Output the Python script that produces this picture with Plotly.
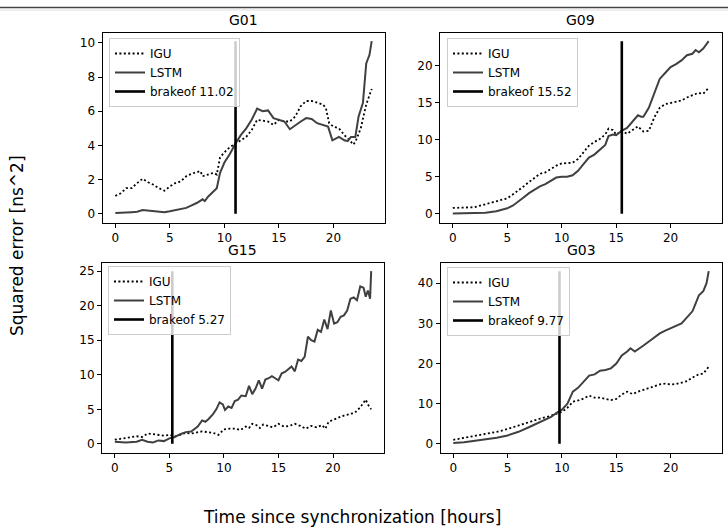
import plotly.graph_objects as go

# ---------------- data ----------------
panel_names = ["G01", "G09", "G15", "G03"]
brakeof = [11.02, 15.52, 5.27, 9.77]

g01_lstm_t = [0, 0.5, 1, 1.5, 2, 2.5, 3, 3.5, 4, 4.5, 5, 5.5, 6, 6.5, 7, 7.5, 8, 8.2, 8.5, 9, 9.3, 9.6, 10, 10.5, 11,
              11.5, 12, 12.5, 13, 13.5, 14, 14.5, 15, 15.5, 16, 16.5, 17, 17.5, 18, 18.5, 19, 19.5, 19.9, 20.2, 20.5,
              21, 21.3, 21.6, 22, 22.3, 22.7, 23, 23.3, 23.5]
g01_lstm_v = [0.05, 0.05, 0.08, 0.1, 0.12, 0.22, 0.2, 0.18, 0.15, 0.1, 0.15, 0.22, 0.25, 0.35, 0.5, 0.65, 0.85, 0.75,
              1.0, 1.3, 1.5, 2.4, 3.0, 3.5, 4.1, 4.6, 5.0, 5.5, 6.15, 6.0, 6.05, 5.6, 5.5, 5.4, 4.95, 5.2, 5.4, 5.6,
              5.55, 5.3, 5.2, 5.1, 4.3, 4.4, 4.5, 4.3, 4.25, 4.5, 4.5, 5.7, 6.5, 8.8, 9.3, 10.1]
g01_igu_t = [0, 0.5, 1, 1.5, 2, 2.5, 3, 3.5, 4, 4.5, 5, 5.5, 6, 6.5, 7, 7.5, 7.8, 8, 8.5, 9, 9.3, 9.6, 10, 10.5, 11,
             11.5, 12, 12.5, 13, 13.5, 14, 14.5, 15, 15.5, 16, 16.5, 17, 17.5, 18, 18.5, 19, 19.3, 19.6, 20, 20.5,
             21, 21.5, 21.8, 22, 22.5, 23, 23.5]
g01_igu_v = [1.05, 1.2, 1.5, 1.5, 1.8, 2.05, 1.85, 1.7, 1.5, 1.35, 1.6, 1.8, 1.9, 2.2, 2.35, 2.45, 2.5, 2.2, 2.3, 2.4,
             2.3, 3.3, 3.6, 3.9, 4.1, 4.3, 4.5, 4.9, 5.5, 5.45, 5.4, 5.2, 5.5, 5.4, 5.4, 5.7, 6.3, 6.6, 6.6, 6.5,
             6.4, 6.2, 5.3, 5.1, 5.0, 4.6, 4.3, 4.05, 4.2, 5.0, 6.4, 7.3]

g09_lstm_t = [0, 1, 2, 3, 4, 4.5, 5, 5.5, 6, 6.5, 7, 7.5, 8, 8.5, 9, 9.5, 10, 10.5, 11, 11.5, 12, 12.5, 13, 13.5, 14,
              14.3, 14.7, 15, 15.5, 16, 16.5, 17, 17.3, 17.5, 18, 18.5, 19, 19.5, 20, 20.5, 21, 21.5, 22, 22.3, 22.6,
              23, 23.5]
g09_lstm_v = [0.05, 0.05, 0.05, 0.15, 0.35, 0.5, 0.75, 1.1, 1.6, 2.2, 2.8, 3.3, 3.7, 4.0, 4.4, 4.9, 5.0, 5.0, 5.2, 5.8,
              6.7, 7.6, 8.0, 8.7, 9.3, 10.5, 10.7, 10.6, 11.2, 11.6, 12.5, 13.3, 13.1, 13.1, 14.3, 16.3, 18.2, 19.0,
              19.8, 20.2, 20.7, 21.4, 21.6, 22.1, 21.8, 22.3, 23.3]
g09_igu_t = [0, 1, 2, 2.5, 3, 4, 5, 5.5, 6, 6.5, 7, 7.5, 8, 8.5, 9, 9.5, 10, 10.5, 11, 11.5, 12, 12.5, 13, 13.5, 14,
             14.3, 14.7, 15, 15.5, 16, 16.5, 17, 17.5, 18, 18.5, 19, 19.5, 20, 20.5, 21, 21.5, 22, 22.5, 23, 23.5]
g09_igu_v = [0.8, 0.9, 0.9, 1.1, 1.3, 1.6, 2.1, 2.6, 3.1, 3.7, 4.3, 4.8, 5.4, 5.6, 6.1, 6.5, 6.8, 6.8, 6.9, 7.4, 8.3,
             9.2, 9.7, 10.1, 10.7, 11.5, 11.3, 10.7, 11.2, 10.8, 11.3, 11.8, 11.1, 11.2, 13.0, 14.3, 14.8, 15.0, 15.1,
             15.3, 15.7, 16.0, 16.3, 16.2, 17.0]

g15_lstm_t = [0, 1, 2, 2.5, 3, 3.5, 4, 4.5, 5, 5.5, 6, 6.5, 7, 7.3, 7.6, 8, 8.3, 8.6, 9, 9.3, 9.6, 9.9, 10.1, 10.4,
              10.7, 11, 11.3, 11.6, 12, 12.3, 12.6, 12.9, 13.2, 13.5, 13.8, 14.1, 14.4, 14.7, 15, 15.3, 15.6, 15.9,
              16.2, 16.5, 16.8, 17.1, 17.4, 17.7, 18, 18.3, 18.6, 18.9, 19.2, 19.5, 19.8, 20.1, 20.4, 20.7, 21, 21.3,
              21.6, 21.9, 22.2, 22.5, 22.8, 23.0, 23.2, 23.4, 23.5]
g15_lstm_v = [0.3, 0.2, 0.3, 0.6, 0.3, 0.2, 0.5, 0.4, 0.8, 1.0, 1.4, 1.7, 1.8, 2.2, 2.5, 3.4, 3.2, 3.6, 4.3, 5.0, 6.0,
              5.7, 4.9, 5.4, 5.2, 6.2, 6.4, 7.0, 6.9, 8.4, 7.2, 8.0, 9.2, 8.0, 9.3, 9.5, 9.8, 9.5, 9.2, 10.2, 10.4,
              10.8, 11.2, 10.5, 12.2, 12.0, 12.6, 15.5, 15.0, 14.8, 16.5, 16.2, 18.0, 16.6, 19.3, 17.4, 17.6, 18.4,
              18.6, 19.3, 21.0, 21.2, 20.8, 22.8, 22.6, 21.3, 22.2, 21.0, 25.0]
g15_igu_t = [0, 0.5, 1, 1.5, 2, 2.5, 3, 3.5, 4, 4.5, 5, 5.5, 6, 6.5, 7, 7.5, 8, 8.5, 9, 9.5, 10, 10.5, 11, 11.5, 12,
             12.3, 12.6, 13, 13.3, 13.6, 14, 14.5, 15, 15.5, 16, 16.5, 17, 17.5, 18, 18.5, 19, 19.3, 19.6, 20, 20.5,
             21, 21.5, 22, 22.5, 22.8, 23.0, 23.2, 23.5]
g15_igu_v = [0.6, 0.7, 0.9, 0.9, 1.1, 1.0, 1.5, 1.4, 1.3, 1.2, 1.3, 1.1, 1.3, 1.6, 1.5, 1.7, 1.8, 1.7, 1.6, 1.3, 2.1,
             2.2, 2.2, 2.0, 2.5, 2.3, 2.9, 2.7, 2.3, 2.8, 2.6, 2.4, 2.9, 2.5, 2.6, 2.9, 2.6, 2.2, 2.6, 2.4, 2.7, 2.2,
             3.2, 3.5, 3.8, 4.1, 4.3, 4.5, 5.3, 6.0, 6.4, 5.7, 5.0]

g03_lstm_t = [0, 1, 2, 3, 4, 5, 6, 7, 8, 9, 9.5, 10, 10.5, 11, 11.5, 12, 12.5, 13, 13.5, 14, 14.5, 15, 15.5, 16, 16.3,
              16.7, 17, 17.5, 18, 18.5, 19, 19.5, 20, 20.5, 21, 21.5, 22, 22.3, 22.6, 23, 23.3, 23.5]
g03_lstm_v = [0.2, 0.4, 0.8, 1.1, 1.5, 2.1, 3.0, 4.2, 5.4, 6.7, 7.7, 8.5, 10.0, 13.0, 14.0, 15.5, 17.0, 17.3, 18.2,
              18.4, 18.8, 20.0, 22.0, 23.0, 23.8, 23.0, 23.5, 24.5, 25.5, 26.5, 27.5, 28.2, 28.8, 29.2, 30.0, 31.5,
              33.0, 35.0, 37.0, 38.0, 40.0, 43.0]
g03_igu_t = [0, 1, 2, 3, 4, 5, 6, 7, 8, 9, 9.5, 10, 10.5, 11, 11.5, 12, 12.5, 13, 13.5, 14, 14.5, 15, 15.5, 16, 16.5,
             17, 17.5, 18, 18.5, 19, 19.5, 20, 20.5, 21, 21.5, 22, 22.5, 23, 23.5]
g03_igu_v = [1.0, 1.5, 2.0, 2.5, 3.0, 3.7, 4.6, 5.5, 6.3, 7.0, 7.5, 8.0, 9.0, 10.5, 10.8, 11.3, 12.0, 11.5, 11.5,
             11.2, 10.9, 11.2, 12.3, 13.0, 12.4, 13.0, 13.5, 14.0, 14.3, 14.8, 15.0, 14.8, 14.9, 15.2, 15.6, 16.5,
             17.2, 17.5, 19.2]

x_ticks = [0, 5, 10, 15, 20]
y_dticks = [2, 5, 5, 10]

panels = [
    (g01_igu_t, g01_igu_v, g01_lstm_t, g01_lstm_v),
    (g09_igu_t, g09_igu_v, g09_lstm_t, g09_lstm_v),
    (g15_igu_t, g15_igu_v, g15_lstm_t, g15_lstm_v),
    (g03_igu_t, g03_igu_v, g03_lstm_t, g03_lstm_v),
]

# ---------------- layout geometry (pixels) ----------------
W, H = 728, 528
boxes = [  # x0, x1, ytop, ybottom in pixels
    (102.5, 384.5, 32.5, 222.5),
    (440.0, 721.5, 32.5, 222.5),
    (102.0, 384.0, 262.5, 452.5),
    (440.5, 721.5, 262.5, 452.5),
]
legend_pos = [(109, 38), (447, 38), (108, 266), (447, 267)]

FONT = "DejaVu Sans"
fig = go.Figure()
layout = {}
annotations = []

for i, (name, bk, (it, iv, lt, lv)) in enumerate(zip(panel_names, brakeof, panels)):
    n = "" if i == 0 else str(i + 1)
    xa, ya = "x" + n, "y" + n
    leg = "legend" + n
    fig.add_trace(go.Scatter(x=it, y=iv, mode="lines", name="IGU", xaxis=xa, yaxis=ya, legend=leg,
                             line=dict(color="black", width=1.8, dash="2px,2.4px")))
    fig.add_trace(go.Scatter(x=lt, y=lv, mode="lines", name="LSTM", xaxis=xa, yaxis=ya, legend=leg,
                             line=dict(color="#404040", width=2)))
    top = max(lv)
    fig.add_trace(go.Scatter(x=[bk, bk], y=[0, top], mode="lines", name=f"brakeof {bk:.2f}",
                             xaxis=xa, yaxis=ya, legend=leg, line=dict(color="black", width=2.6)))

    allx = list(it) + list(lt) + [bk]
    ally = list(iv) + list(lv) + [0, top]
    xmin, xmax = min(allx), max(allx)
    ymin, ymax = min(ally), max(ally)
    px_ = 0.05 * (xmax - xmin)
    py_ = 0.05 * (ymax - ymin)

    x0, x1, yt, yb = boxes[i]
    axis_common = dict(showline=True, linecolor="black", linewidth=1, mirror=True, ticks="outside",
                       ticklen=4, tickwidth=1, tickcolor="black", showgrid=False, zeroline=False,
                       tickfont=dict(family=FONT, size=12, color="black"))
    layout["xaxis" + n] = dict(domain=[x0 / W, x1 / W], anchor=ya, range=[xmin - px_, xmax + px_],
                               tickvals=x_ticks, **axis_common)
    layout["yaxis" + n] = dict(domain=[1 - yb / H, 1 - yt / H], anchor=xa, range=[ymin - py_, ymax + py_],
                               dtick=y_dticks[i], tick0=0, **axis_common)
    lx, ly = legend_pos[i]
    layout[leg] = dict(x=lx / W, y=1 - ly / H, xanchor="left", yanchor="top", xref="paper", yref="paper",
                       bgcolor="rgba(255,255,255,0.8)", bordercolor="#cccccc", borderwidth=1,
                       font=dict(family=FONT, size=12, color="black"), itemwidth=30,
                       tracegroupgap=0)
    annotations.append(dict(text=name, x=(x0 + x1) / 2 / W, y=1 - yt / H, xref="paper", yref="paper",
                            xanchor="center", yanchor="bottom", yshift=2, showarrow=False,
                            font=dict(family=FONT, size=14, color="black")))

annotations.append(dict(text="Time since synchronization [hours]", x=352 / W, y=1 - 517 / H, xref="paper",
                        yref="paper", xanchor="center", yanchor="middle", showarrow=False,
                        font=dict(family=FONT, size=17, color="black")))
annotations.append(dict(text="Squared error [ns^2]", x=17 / W, y=1 - 246 / H, xref="paper", yref="paper",
                        xanchor="center", yanchor="middle", textangle=-90, showarrow=False,
                        font=dict(family=FONT, size=17, color="black")))

shapes = [
    dict(type="line", xref="paper", yref="paper", x0=0, x1=1, y0=1 - 7.5 / H, y1=1 - 7.5 / H,
         line=dict(color="#444444", width=1.5)),
    dict(type="line", xref="paper", yref="paper", x0=0, x1=1, y0=1 - 10 / H, y1=1 - 10 / H,
         line=dict(color="#dddddd", width=1)),
]

fig.update_layout(width=W, height=H, margin=dict(l=0, r=0, t=0, b=0), paper_bgcolor="white",
                  plot_bgcolor="white", showlegend=True, annotations=annotations, shapes=shapes,
                  font=dict(family=FONT, color="black"), **layout)

fig.write_html("out.html")
